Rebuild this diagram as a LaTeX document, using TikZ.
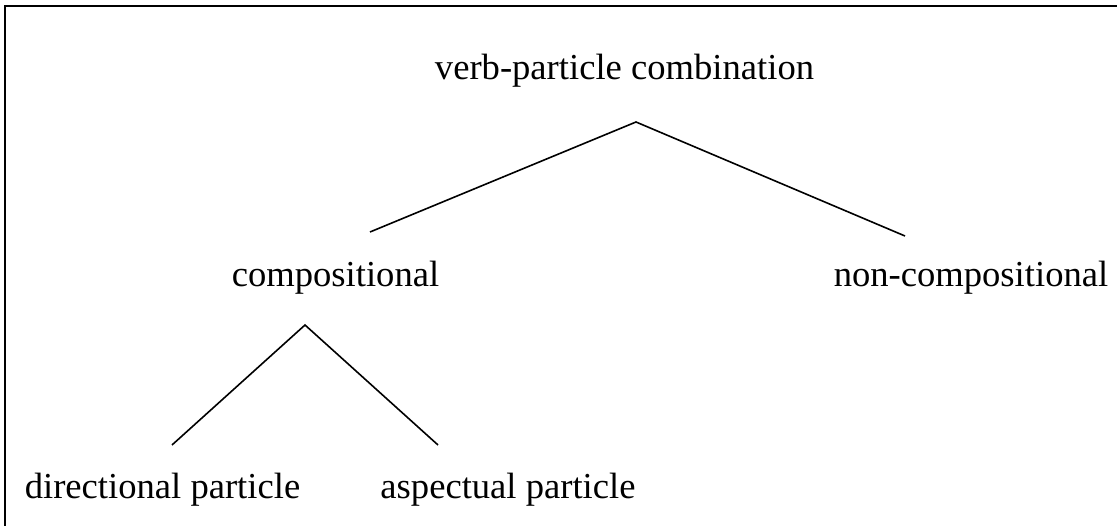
\documentclass[tikz,border=0pt]{standalone}
\usepackage{fontspec}
\setmainfont{Liberation Serif}
\begin{document}
\begin{tikzpicture}[x=1pt,y=-1pt,
  lbl/.style={anchor=base,inner sep=0pt,font=\fontsize{36.6}{40}\selectfont},
  branch/.style={line width=1.6pt},
  frame/.style={line width=2.2pt}]
\useasboundingbox (0,0) rectangle (1117,526);
% frame (open at right and bottom, as cropped)
\draw[frame] (5,526) -- (5,6) -- (1117,6);
% labels
\node[lbl] (root) at (624.5,80) {verb-particle combination};
\node[lbl] (comp) at (335.5,287) {compositional};
\node[lbl] (noncomp) at (971,287) {non-compositional};
\node[lbl] (dir) at (162.5,499) {directional particle};
\node[lbl] (asp) at (508,499) {aspectual particle};
% branch points
\coordinate (rootv) at (636,122);
\coordinate (compt) at (370,232);
\coordinate (noncompt) at (905,236);
\coordinate (compv) at (305,325);
\coordinate (dirt) at (172,445);
\coordinate (aspt) at (438,445);
% connectors
\draw[branch] (compt) -- (rootv) -- (noncompt);
\draw[branch] (dirt) -- (compv) -- (aspt);
\end{tikzpicture}
\end{document}
